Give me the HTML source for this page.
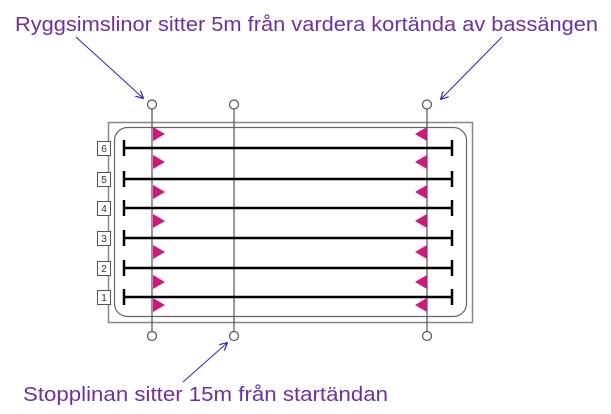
<!DOCTYPE html>
<html><head><meta charset="utf-8"><style>
html,body{margin:0;padding:0;background:#fff;}
svg{display:block;}
text{font-family:"Liberation Sans",sans-serif;}
</style></head><body>
<svg width="611" height="414" viewBox="0 0 611 414" xmlns="http://www.w3.org/2000/svg">
<defs>
<marker id="ah" viewBox="0 0 10 10" refX="9" refY="5" markerWidth="8" markerHeight="8" orient="auto" markerUnits="userSpaceOnUse">
<path d="M0,0 L10,5 L0,10" fill="none" stroke="#2a2ab0" stroke-width="1.5"/>
</marker>
</defs>
<text x="15" y="31" font-size="20" fill="#7030a0" textLength="583" lengthAdjust="spacingAndGlyphs">Ryggsimslinor sitter 5m från vardera kortända av bassängen</text>
<text x="23" y="401" font-size="20" fill="#7030a0" textLength="365" lengthAdjust="spacingAndGlyphs">Stopplinan sitter 15m från startändan</text>
<line x1="76" y1="37" x2="143" y2="98" stroke="#2a2ab0" stroke-width="1" marker-end="url(#ah)"/>
<line x1="502" y1="37" x2="441" y2="99" stroke="#2a2ab0" stroke-width="1" marker-end="url(#ah)"/>
<line x1="183" y1="382" x2="227" y2="343" stroke="#2a2ab0" stroke-width="1" marker-end="url(#ah)"/>
<rect x="108.5" y="122.5" width="364" height="200" fill="#fff" stroke="#888" stroke-width="1.5"/>
<rect x="114.5" y="127.5" width="352" height="189" rx="13" fill="#fff" stroke="#666" stroke-width="1.2"/>
<g stroke="#555" stroke-width="1.2" fill="#fff">
<line x1="152" y1="109" x2="152" y2="331"/>
<line x1="234" y1="109" x2="234" y2="331"/>
<line x1="427" y1="109" x2="427" y2="331"/>
<circle cx="152" cy="104.5" r="4.5"/><circle cx="234" cy="104.5" r="4.5"/><circle cx="427" cy="104.5" r="4.5"/>
<circle cx="152" cy="336" r="4.5"/><circle cx="234" cy="336" r="4.5"/><circle cx="427" cy="336" r="4.5"/>
</g>
<g stroke="#000" stroke-width="2.5">
<line x1="124" y1="148" x2="452" y2="148"/><line x1="124" y1="140" x2="124" y2="156"/><line x1="452" y1="140" x2="452" y2="156"/>
<line x1="124" y1="179" x2="452" y2="179"/><line x1="124" y1="171" x2="124" y2="187"/><line x1="452" y1="171" x2="452" y2="187"/>
<line x1="124" y1="208" x2="452" y2="208"/><line x1="124" y1="200" x2="124" y2="216"/><line x1="452" y1="200" x2="452" y2="216"/>
<line x1="124" y1="238" x2="452" y2="238"/><line x1="124" y1="230" x2="124" y2="246"/><line x1="452" y1="230" x2="452" y2="246"/>
<line x1="124" y1="268" x2="452" y2="268"/><line x1="124" y1="260" x2="124" y2="276"/><line x1="452" y1="260" x2="452" y2="276"/>
<line x1="124" y1="297" x2="452" y2="297"/><line x1="124" y1="289" x2="124" y2="305"/><line x1="452" y1="289" x2="452" y2="305"/>
</g>
<g fill="#d0177f">
<path d="M153,127 L165,134 L153,141Z"/><path d="M153,155 L165,162 L153,169Z"/><path d="M153,185 L165,192 L153,199Z"/>
<path d="M153,214 L165,221 L153,228Z"/><path d="M153,245 L165,252 L153,259Z"/><path d="M153,275 L165,282 L153,289Z"/>
<path d="M153,298 L165,305 L153,312Z"/>
<path d="M427,127 L415,134 L427,141Z"/><path d="M427,155 L415,162 L427,169Z"/><path d="M427,185 L415,192 L427,199Z"/>
<path d="M427,214 L415,221 L427,228Z"/><path d="M427,245 L415,252 L427,259Z"/><path d="M427,275 L415,282 L427,289Z"/>
<path d="M427,298 L415,305 L427,312Z"/>
</g>
<g fill="#fff" stroke="#555" stroke-width="1">
<rect x="97.5" y="141.5" width="13" height="14"/><rect x="97.5" y="172.5" width="13" height="14"/><rect x="97.5" y="201.5" width="13" height="14"/>
<rect x="97.5" y="231.5" width="13" height="14"/><rect x="97.5" y="261.5" width="13" height="14"/><rect x="97.5" y="290.5" width="13" height="14"/>
</g>
<g font-size="10" fill="#333" text-anchor="middle">
<text x="104" y="152">6</text><text x="104" y="183">5</text><text x="104" y="212">4</text>
<text x="104" y="242">3</text><text x="104" y="272">2</text><text x="104" y="301">1</text>
</g>
</svg>
</body></html>
